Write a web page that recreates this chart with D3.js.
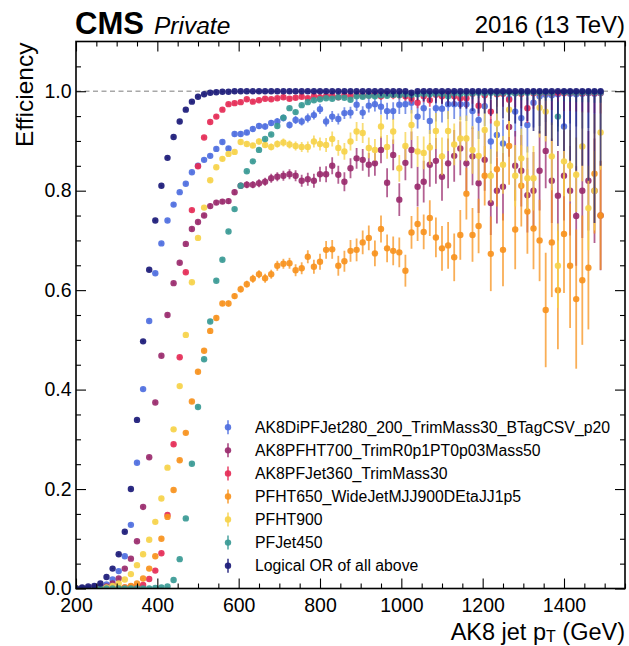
<!DOCTYPE html>
<html>
<head>
<meta charset="utf-8">
<script src="https://cdn.jsdelivr.net/npm/d3@7"></script>
<style>
  html, body { margin: 0; padding: 0; background: #fff; }
  svg { display: block; font-family: "Liberation Sans", Arial, Helvetica, sans-serif; }
</style>
</head>
<body>
<svg id="chart" width="629" height="646"></svg>
<script>
// Bin centres of the AK8 jet pT histogram (GeV)
const ptBins = d3.range(200, 1500, 15);

const triggerNames = [
  "AK8DiPFJet280_200_TrimMass30_BTagCSV_p20",
  "AK8PFHT700_TrimR0p1PT0p03Mass50",
  "AK8PFJet360_TrimMass30",
  "PFHT650_WideJetMJJ900DEtaJJ1p5",
  "PFHT900",
  "PFJet450",
  "Logical OR of all above"
];
const triggerColors = ["#4f6fdf", "#9a2b6e", "#e52d57", "#f7931e", "#f6d24a", "#3a9a95", "#1b1a78"];

// Efficiencies per bin
const effDiJet = [
  0, 0, 0, 0, .003, .008, .018, .035, .065, .128,
  .253, .401, .538, .634, .694, .740, .772, .797, .814, .837,
  .850, .862, .870, .884, .898, .885, .914, .914, .917, .924,
  .930, .929, .936, .939, .946, .932, .942, .939, .946, .952,
  .964, .939, .949, .944, .956, .957, .973, .957, .971, .974,
  .969, .960, .960, .973, .974, .977, .949, .966, .940, .966,
  .965, .974, .974, .974, .974, .960, .942, .970, .899, .912,
  .895, .985, .959, .946, .932, .977, .990, .993, .992, .994,
  .929, .995, .994, .995, .996, .995, .996
];
const effHT700 = [
  0, 0, 0, .002, .003, .004, .010, .020, .040, .060,
  .095, .164, .264, .374, .468, .550, .614, .655, .693, .723,
  .737, .750, .769, .776, .778, .779, .797, .810, .812, .812,
  .815, .818, .825, .828, .830, .833, .830, .820, .823, .820,
  .833, .833, .850, .832, .818, .845, .865, .862, .852, .855,
  .882, .816, .872, .782, .856, .882, .808, .818, .852, .860,
  .828, .855, .870, .885, .855, .869, .815, .862, .775, .800,
  .808, .928, .850, .840, .791, .800, .840, .880, .820, .790,
  .830, .800, .749, .800, .820, .800, .750
];
const effJet360 = [
  0, 0, 0, 0, 0, 0, 0, .001, .002, .004,
  .005, .007, .019, .036, .071, .148, .290, .465, .636, .761,
  .849, .907, .938, .949, .963, .974, .976, .978, .984, .979,
  .982, .985, .984, .986, .988, .985, .987, .989, .986, .990,
  .988, .990, .991, .988, .992, .990, .993, .991, .992, .993,
  .990, .994, .992, .993, .990, .985, .977, .990, .982, .993,
  .990, .994, .990, .986, .986, .995, .971, .992, .959, .994,
  .995, .983, .996, .995, .966, .996, .996, .997, .996, .997,
  .996, .997, .997, .996, .997, .996, .997
];
const effHT650 = [
  0, 0, 0, 0, 0, 0, 0, .001, .002, .005,
  .010, .020, .040, .065, .100, .144, .198, .258, .313, .376,
  .436, .478, .518, .544, .573, .573, .588, .602, .612, .623,
  .632, .624, .632, .649, .653, .654, .640, .644, .667, .647,
  .657, .681, .682, .649, .658, .679, .681, .696, .705, .674,
  .723, .684, .679, .676, .639, .716, .733, .717, .745, .706,
  .684, .690, .666, .711, .794, .711, .729, .830, .673, .843,
  .681, .890, .722, .810, .758, .724, .700, .560, .696, .600,
  .713, .649, .582, .620, .645, .834, .750
];
const effHT900 = [
  0, 0, 0, 0, .001, .002, .005, .010, .018, .029,
  .047, .069, .098, .134, .181, .243, .320, .407, .510, .616,
  .705, .766, .821, .847, .864, .874, .878, .898, .894, .891,
  .899, .892, .888, .894, .897, .893, .890, .888, .888, .899,
  .894, .892, .904, .886, .879, .899, .919, .916, .886, .882,
  .929, .888, .919, .845, .890, .932, .879, .876, .887, .920,
  .869, .920, .893, .905, .905, .882, .870, .922, .830, .935,
  .852, .963, .830, .865, .825, .825, .967, .959, .869, .649,
  .859, .850, .832, .889, .765, .800, .917
];
const effJet450 = [
  0, 0, 0, 0, 0, 0, 0, 0, 0, 0,
  0, 0, 0, .001, .002, .004, .017, .059, .141, .251,
  .365, .461, .537, .619, .661, .718, .763, .810, .839, .859,
  .882, .904, .913, .930, .947, .966, .958, .972, .978, .982,
  .984, .986, .985, .988, .987, .983, .990, .989, .991, .990,
  .992, .991, .993, .992, .994, .993, .994, .995, .994, .995,
  .995, .990, .996, .995, .996, .996, .997, .996, .997, .996,
  .997, .997, .996, .997, .997, .998, .997, .998, .997, .949,
  .998, .998, .997, .998, .998, .998, .998
];
const effOR = [
  0, .002, .004, .005, .010, .023, .040, .069, .114, .200,
  .339, .497, .641, .740, .810, .866, .908, .939, .963, .979,
  .989, .994, .997, .998, .999, .999, 1, 1, 1, 1,
  1, 1, 1, 1, 1, 1, 1, 1, 1, 1,
  1, 1, 1, 1, 1, 1, 1, 1, 1, 1,
  1, 1, 1, 1, 1, .997, 1, 1, 1, 1,
  1, 1, 1, 1, 1, 1, 1, 1, 1, 1,
  1, 1, 1, 1, 1, 1, 1, 1, 1, 1,
  1, 1, 1, 1, 1, 1, 1
];

// Statistical uncertainty per bin
const errDiJet = [
  .001, .001, .001, .001, .001, .001, .002, .002, .002, .003,
  .003, .003, .003, .003, .003, .003, .003, .003, .003, .003,
  .004, .004, .004, .004, .004, .005, .005, .005, .005, .005,
  .006, .006, .006, .007, .007, .007, .008, .008, .009, .009,
  .010, .010, .011, .011, .012, .012, .013, .013, .014, .015,
  .016, .017, .018, .019, .020, .022, .024, .024, .026, .027,
  .028, .030, .030, .032, .034, .036, .038, .040, .045, .045,
  .048, .045, .050, .055, .055, .050, .060, .055, .060, .065,
  .070, .060, .065, .070, .070, .080, .075
];
const errHT700 = [
  .001, .001, .001, .001, .001, .001, .001, .002, .002, .002,
  .002, .003, .003, .003, .003, .003, .003, .003, .003, .004,
  .004, .004, .005, .005, .005, .006, .006, .006, .007, .007,
  .008, .008, .009, .009, .010, .010, .011, .012, .013, .014,
  .015, .016, .017, .018, .019, .020, .021, .022, .024, .025,
  .027, .029, .031, .033, .035, .037, .040, .042, .044, .046,
  .048, .050, .052, .054, .056, .058, .060, .062, .064, .066,
  .068, .060, .070, .072, .075, .078, .080, .075, .085, .090,
  .090, .090, .100, .095, .100, .105, .110
];
const errJet360 = [
  .001, .001, .001, .001, .001, .001, .001, .001, .001, .001,
  .001, .001, .001, .002, .002, .002, .003, .003, .003, .003,
  .003, .003, .003, .003, .003, .003, .003, .003, .003, .003,
  .003, .003, .003, .003, .003, .004, .004, .004, .004, .004,
  .005, .005, .005, .005, .006, .006, .006, .006, .007, .007,
  .007, .008, .008, .009, .009, .010, .011, .012, .013, .014,
  .015, .016, .017, .018, .019, .020, .021, .022, .024, .025,
  .026, .027, .028, .029, .030, .031, .032, .033, .034, .035,
  .036, .037, .038, .039, .040, .041, .042
];
const errHT650 = [
  0, 0, 0, 0, 0, 0, 0, .001, .001, .001,
  .001, .001, .002, .002, .002, .003, .003, .003, .003, .004,
  .004, .004, .005, .005, .005, .006, .006, .007, .007, .008,
  .008, .009, .009, .010, .010, .011, .012, .012, .013, .014,
  .016, .018, .019, .020, .021, .022, .023, .024, .025, .026,
  .027, .028, .029, .030, .032, .033, .034, .035, .036, .040,
  .045, .047, .048, .050, .052, .054, .055, .060, .075, .075,
  .073, .078, .080, .082, .085, .082, .082, .115, .110, .119,
  .119, .125, .140, .130, .124, .120, .109
];
const errHT900 = [
  0, 0, 0, 0, 0, 0, .001, .001, .001, .001,
  .001, .002, .002, .002, .002, .003, .003, .003, .003, .003,
  .003, .003, .003, .003, .004, .004, .004, .005, .005, .005,
  .006, .006, .007, .007, .008, .008, .009, .010, .011, .012,
  .013, .014, .015, .016, .017, .018, .019, .020, .021, .022,
  .023, .024, .025, .027, .028, .030, .031, .033, .035, .036,
  .038, .040, .042, .044, .046, .048, .050, .052, .054, .056,
  .058, .055, .062, .060, .064, .065, .060, .060, .068, .085,
  .070, .072, .075, .070, .085, .080, .075
];
const errJet450 = [
  0, 0, 0, 0, 0, 0, 0, 0, 0, 0,
  0, 0, 0, .001, .001, .001, .001, .002, .002, .003,
  .003, .003, .003, .003, .003, .003, .003, .003, .003, .003,
  .003, .003, .003, .003, .003, .003, .003, .003, .003, .003,
  .003, .003, .003, .003, .003, .004, .004, .004, .004, .004,
  .005, .005, .005, .005, .006, .006, .006, .007, .007, .008,
  .008, .009, .009, .010, .010, .011, .011, .012, .012, .013,
  .013, .014, .014, .015, .015, .016, .016, .017, .017, .030,
  .018, .019, .019, .020, .020, .021, .021
];
const errOR = [
  .001, .001, .001, .001, .001, .001, .001, .002, .002, .002,
  .002, .002, .002, .002, .002, .002, .002, .002, .002, .002,
  .002, .002, .002, .002, .002, .002, .002, .002, .002, .002,
  .002, .002, .002, .002, .002, .002, .002, .002, .002, .002,
  .003, .003, .004, .004, .005, .005, .006, .006, .007, .008,
  .010, .010, .012, .013, .015, .016, .018, .020, .022, .024,
  .025, .030, .030, .035, .035, .040, .045, .045, .050, .045,
  .055, .060, .065, .070, .060, .080, .085, .090, .100, .110,
  .120, .140, .160, .150, .180, .265, .150
];

const effs = [effDiJet, effHT700, effJet360, effHT650, effHT900, effJet450, effOR];
const errs = [errDiJet, errHT700, errJet360, errHT650, errHT900, errJet450, errOR];

const plotLeft = 76, plotRight = 625, plotTop = 41.5, plotBottom = 588.5;

const x = d3.scaleLinear().domain([200, 1550]).range([plotLeft, plotRight]);
const y = d3.scaleLinear().domain([0, 1.1]).range([plotBottom, plotTop]);

const svg = d3.select("#chart");

svg.append("defs").append("clipPath").attr("id", "plotClip")
  .append("rect").attr("x", plotLeft).attr("y", plotTop)
  .attr("width", plotRight - plotLeft).attr("height", plotBottom - plotTop);

// Reference line at unit efficiency
svg.append("line")
  .attr("x1", plotLeft).attr("x2", plotRight)
  .attr("y1", y(1)).attr("y2", y(1))
  .attr("stroke", "#a8a8a8").attr("stroke-width", 1.3)
  .attr("stroke-dasharray", "5,3.5");

// Data: error bars and markers for each trigger
const plot = svg.append("g").attr("clip-path", "url(#plotClip)");
effs.forEach((eff, s) => {
  const g = plot.append("g");
  const col = triggerColors[s];
  const pts = ptBins.map((pt, i) => ({
    pt, v: eff[i],
    lo: Math.max(0, eff[i] - errs[s][i]),
    hi: Math.min(1, eff[i] + errs[s][i])
  }));
  g.selectAll("line.err").data(pts).join("line")
    .attr("class", "err")
    .attr("x1", d => x(d.pt)).attr("x2", d => x(d.pt))
    .attr("y1", d => y(d.lo)).attr("y2", d => y(d.hi))
    .attr("stroke", col).attr("stroke-width", 1.8).attr("stroke-opacity", 0.75);
  g.selectAll("circle").data(pts).join("circle")
    .attr("cx", d => x(d.pt)).attr("cy", d => y(d.v))
    .attr("r", 3.2).attr("fill", col).attr("fill-opacity", 0.92);
});

// Axes with inward ticks on all four sides
const xMajor = d3.range(200, 1550, 200);
const xMinor = d3.range(200, 1551, 50).filter(v => v % 200 !== 0);
const yMajor = [0, 0.2, 0.4, 0.6, 0.8, 1.0];
const yMinor = d3.range(0, 22).map(i => i * 0.05).filter(v => Math.abs(v * 5 - Math.round(v * 5)) > 1e-6);

function styleAxis(g) {
  g.select(".domain").remove();
  g.selectAll(".tick line").attr("stroke", "#000").attr("stroke-width", 1.1);
  g.selectAll(".tick text").attr("fill", "#000").style("font-size", "19.5px")
    .style("font-family", "'Liberation Sans', Arial, sans-serif");
}

svg.append("g").attr("transform", `translate(0,${plotBottom})`)
  .call(d3.axisBottom(x).tickValues(xMajor).tickSize(-10).tickPadding(10).tickFormat(d3.format("d")))
  .call(styleAxis);
svg.append("g").attr("transform", `translate(0,${plotBottom})`)
  .call(d3.axisBottom(x).tickValues(xMinor).tickSize(-5).tickFormat(""))
  .call(styleAxis);
svg.append("g").attr("transform", `translate(0,${plotTop})`)
  .call(d3.axisTop(x).tickValues(xMajor).tickSize(-10).tickFormat(""))
  .call(styleAxis);
svg.append("g").attr("transform", `translate(0,${plotTop})`)
  .call(d3.axisTop(x).tickValues(xMinor).tickSize(-5).tickFormat(""))
  .call(styleAxis);

svg.append("g").attr("transform", `translate(${plotLeft},0)`)
  .call(d3.axisLeft(y).tickValues(yMajor).tickSize(-10).tickPadding(4.5).tickFormat(d3.format(".1f")))
  .call(styleAxis);
svg.append("g").attr("transform", `translate(${plotLeft},0)`)
  .call(d3.axisLeft(y).tickValues(yMinor).tickSize(-5).tickFormat(""))
  .call(styleAxis);
svg.append("g").attr("transform", `translate(${plotRight},0)`)
  .call(d3.axisRight(y).tickValues(yMajor).tickSize(-10).tickFormat(""))
  .call(styleAxis);
svg.append("g").attr("transform", `translate(${plotRight},0)`)
  .call(d3.axisRight(y).tickValues(yMinor).tickSize(-5).tickFormat(""))
  .call(styleAxis);

// Frame
svg.append("rect")
  .attr("x", plotLeft).attr("y", plotTop)
  .attr("width", plotRight - plotLeft).attr("height", plotBottom - plotTop)
  .attr("fill", "none").attr("stroke", "#000").attr("stroke-width", 1.6);

// Axis titles
svg.append("text")
  .attr("transform", `translate(33,${plotTop + 1}) rotate(-90)`)
  .attr("text-anchor", "end")
  .style("font-size", "24.5px")
  .text("Efficiency");

const xt = svg.append("text")
  .attr("x", plotRight).attr("y", 639.5)
  .attr("text-anchor", "end")
  .style("font-size", "23.5px");
xt.append("tspan").text("AK8 jet p");
xt.append("tspan").attr("dy", 2.5).style("font-size", "16px").text("T");
xt.append("tspan").attr("dy", -2.5).text(" (GeV)");

// Header
svg.append("text").attr("x", plotLeft - 1).attr("y", 33.5)
  .style("font-size", "31px").style("font-weight", "bold").text("CMS");
svg.append("text").attr("x", 154).attr("y", 33.5)
  .style("font-size", "24.5px").style("font-style", "italic").text("Private");

svg.append("text")
  .attr("x", plotRight).attr("y", 33)
  .attr("text-anchor", "end")
  .style("font-size", "24px")
  .text("2016 (13 TeV)");

// Legend
const legY0 = 427.3, legDy = 23.06, legX = 228;
const leg = svg.append("g");
triggerNames.forEach((name, i) => {
  const cy = legY0 + i * legDy;
  leg.append("line")
    .attr("x1", legX).attr("x2", legX).attr("y1", cy - 7).attr("y2", cy + 7)
    .attr("stroke", triggerColors[i]).attr("stroke-width", 1.8).attr("stroke-opacity", 0.75);
  leg.append("circle").attr("cx", legX).attr("cy", cy).attr("r", 3.2)
    .attr("fill", triggerColors[i]).attr("fill-opacity", 0.92);
  leg.append("text").attr("x", 255).attr("y", cy + 5.6)
    .style("font-size", "15.8px").text(name);
});
</script>
</body>
</html>
